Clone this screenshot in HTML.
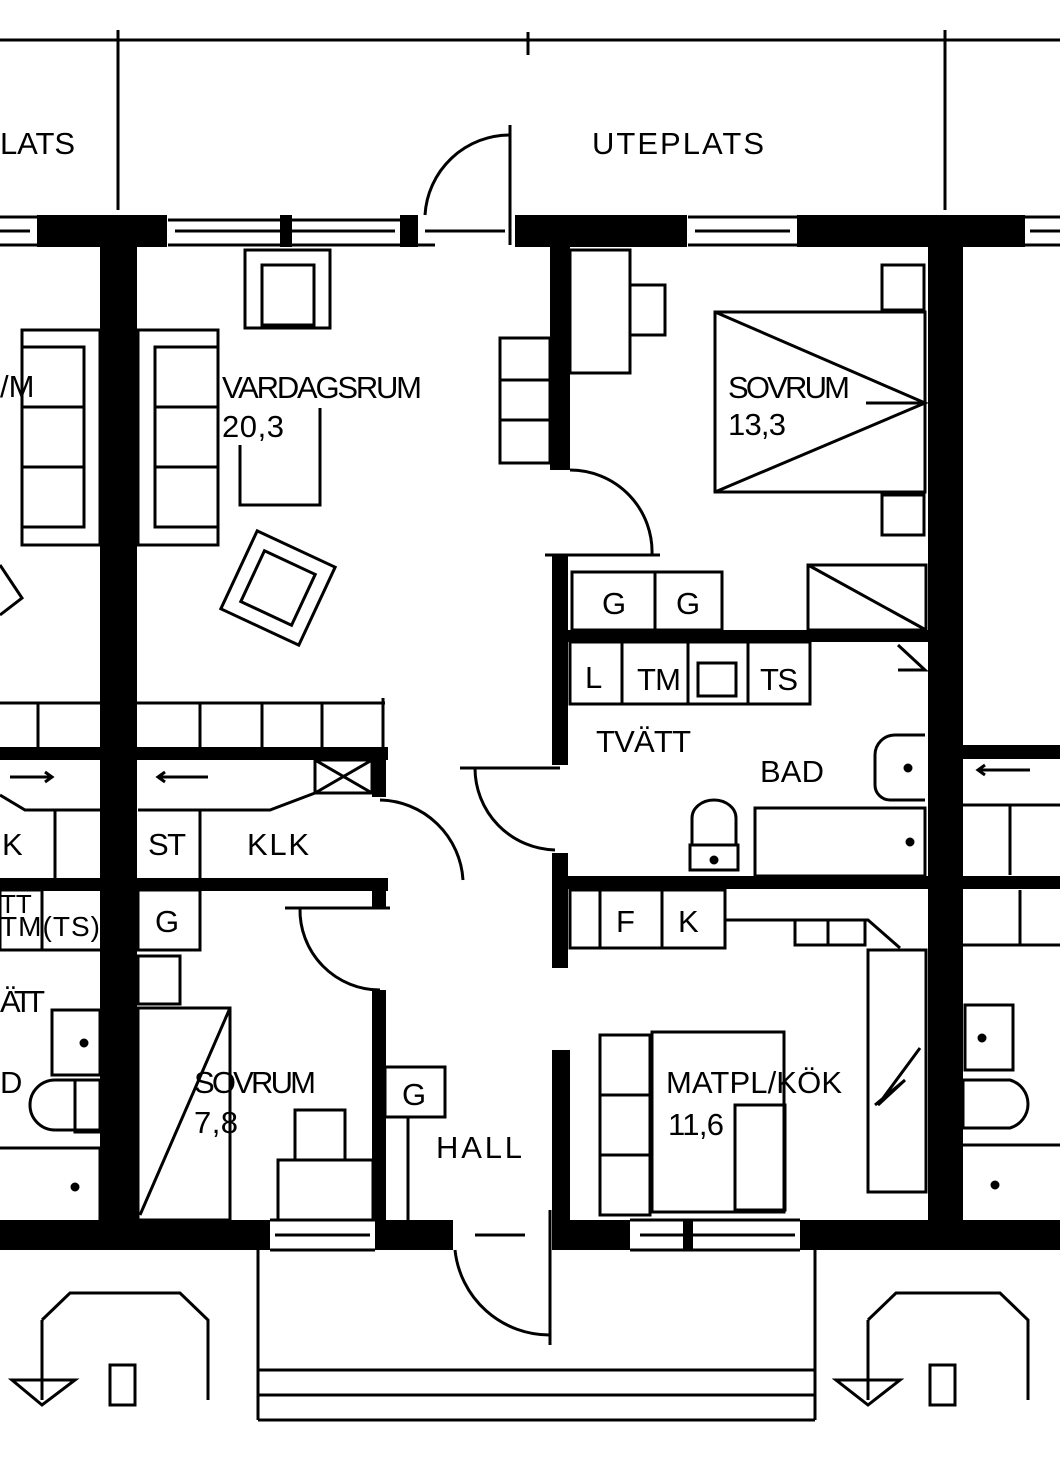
<!DOCTYPE html>
<html><head><meta charset="utf-8"><style>
html,body{margin:0;padding:0;background:#fff}
svg{display:block}
text{font-family:"Liberation Sans","DejaVu Sans",sans-serif;font-size:31px;fill:#000}
</style></head><body>
<svg width="1060" height="1484" viewBox="0 0 1060 1484" xmlns="http://www.w3.org/2000/svg">
<g fill="none" stroke="#000" stroke-width="3">
<line x1="0" y1="40" x2="1060" y2="40"/>
<line x1="118" y1="30" x2="118" y2="210"/>
<line x1="945" y1="30" x2="945" y2="210"/>
<line x1="528" y1="32" x2="528" y2="55"/>
<path d="M425 215 A85 85 0 0 1 510 135"/>
<line x1="510" y1="125" x2="510" y2="245"/>
<line x1="425" y1="231" x2="505" y2="231"/>
<line x1="0" y1="217" x2="37" y2="217"/><line x1="0" y1="245" x2="37" y2="245"/><line x1="0" y1="231" x2="30" y2="231"/>
<line x1="168" y1="220" x2="400" y2="220"/><line x1="168" y1="245" x2="435" y2="245"/><line x1="175" y1="231" x2="395" y2="231"/>
<line x1="688" y1="217" x2="797" y2="217"/><line x1="688" y1="245" x2="797" y2="245"/><line x1="695" y1="231" x2="790" y2="231"/>
<line x1="1025" y1="217" x2="1060" y2="217"/><line x1="1025" y1="245" x2="1060" y2="245"/><line x1="1030" y1="231" x2="1060" y2="231"/>
<line x1="270" y1="1220" x2="375" y2="1220"/><line x1="270" y1="1250" x2="375" y2="1250"/><line x1="275" y1="1235" x2="370" y2="1235"/>
<line x1="630" y1="1220" x2="800" y2="1220"/><line x1="630" y1="1250" x2="800" y2="1250"/><line x1="640" y1="1235" x2="795" y2="1235"/>
<line x1="475" y1="1235" x2="525" y2="1235"/>
<path d="M455 1250 A95 95 0 0 0 550 1335"/>
<line x1="550" y1="1210" x2="550" y2="1345"/>
<line x1="258" y1="1250" x2="258" y2="1420"/><line x1="815" y1="1250" x2="815" y2="1420"/>
<line x1="258" y1="1370" x2="815" y2="1370"/><line x1="258" y1="1395" x2="815" y2="1395"/><line x1="258" y1="1420" x2="815" y2="1420"/>
<path d="M42 1320 L70 1293 L180 1293 L208 1320 L208 1400"/><line x1="42" y1="1320" x2="42" y2="1400"/>
<path d="M12 1380 L75 1380 L42 1405 Z"/><rect x="110" y="1365" width="25" height="40"/>
<path d="M868 1320 L896 1293 L1000 1293 L1028 1320 L1028 1400"/><line x1="868" y1="1320" x2="868" y2="1400"/>
<path d="M836 1380 L900 1380 L868 1405 Z"/><rect x="930" y="1365" width="25" height="40"/>
<rect x="245" y="250" width="85" height="78"/><rect x="262" y="265" width="52" height="60"/>
<rect x="138" y="330" width="80" height="215"/><rect x="155" y="347" width="63" height="180"/>
<line x1="155" y1="407" x2="218" y2="407"/><line x1="155" y1="467" x2="218" y2="467"/>
<rect x="22" y="330" width="78" height="215"/><rect x="22" y="347" width="62" height="180"/>
<line x1="22" y1="407" x2="84" y2="407"/><line x1="22" y1="467" x2="84" y2="467"/>
<polyline points="240,445 240,505 320,505 320,408"/>
<g transform="rotate(25 278 588)"><rect x="235" y="545" width="86" height="86"/><rect x="250" y="560" width="56" height="56"/></g>
<path d="M0 565 L22 598 L0 615"/>
<line x1="0" y1="703" x2="385" y2="703"/>
<line x1="38" y1="703" x2="38" y2="747"/><line x1="200" y1="703" x2="200" y2="747"/><line x1="262" y1="703" x2="262" y2="747"/><line x1="322" y1="703" x2="322" y2="747"/><line x1="383" y1="698" x2="383" y2="747"/>
<rect x="315" y="760" width="57" height="33"/><line x1="315" y1="760" x2="372" y2="793"/><line x1="372" y1="760" x2="315" y2="793"/>
<polyline points="138,810 270,810 315,793"/><polyline points="0,795 25,810 100,810"/>
<line x1="55" y1="810" x2="55" y2="878"/><line x1="200" y1="810" x2="200" y2="878"/>
<line x1="158" y1="777" x2="208" y2="777"/><polyline points="165,772 158,777 165,782"/>
<line x1="10" y1="777" x2="52" y2="777"/><polyline points="45,772 52,777 45,782"/>
<path d="M380 800 A85 85 0 0 1 463 880"/>
<rect x="138" y="890" width="62" height="60"/>
<path d="M300 908 A80 80 0 0 0 380 990"/><line x1="285" y1="908" x2="390" y2="908"/>
<rect x="138" y="956" width="42" height="48"/>
<rect x="138" y="1008" width="92" height="212"/><line x1="230" y1="1008" x2="140" y2="1215"/>
<rect x="295" y="1110" width="50" height="50"/><rect x="278" y="1160" width="95" height="60"/>
<rect x="385" y="1067" width="60" height="50"/><line x1="408" y1="1117" x2="408" y2="1220"/>
<rect x="52" y="1010" width="48" height="65"/><circle cx="84" cy="1043" r="3" fill="#000"/>
<path d="M100 1080 L55 1080 A22 22 0 0 0 55 1130 L100 1130 Z"/><rect x="75" y="1080" width="25" height="52"/>
<polyline points="0,1148 100,1148 100,1220"/>
<rect x="0" y="890" width="42" height="60"/>
<line x1="0" y1="950" x2="100" y2="950"/>
<rect x="570" y="250" width="60" height="123"/>
<rect x="630" y="285" width="35" height="50"/>
<rect x="500" y="338" width="50" height="125"/><line x1="500" y1="380" x2="550" y2="380"/><line x1="500" y1="420" x2="550" y2="420"/>
<path d="M570 470 A82 82 0 0 1 652 555"/><line x1="545" y1="555" x2="660" y2="555"/>
<rect x="882" y="265" width="42" height="45"/><rect x="882" y="495" width="42" height="40"/>
<rect x="715" y="312" width="210" height="180"/><polyline points="715,312 925,403 715,492"/><line x1="866" y1="403" x2="925" y2="403"/>
<rect x="572" y="572" width="150" height="58"/><line x1="655" y1="572" x2="655" y2="630"/>
<rect x="808" y="565" width="118" height="65"/><line x1="808" y1="565" x2="926" y2="630"/>
<rect x="570" y="642" width="240" height="62"/><line x1="622" y1="642" x2="622" y2="704"/><line x1="688" y1="642" x2="688" y2="704"/><line x1="748" y1="642" x2="748" y2="704"/>
<rect x="698" y="663" width="38" height="33"/>
<polyline points="898,645 925,670 898,670"/>
<path d="M925 735 L895 735 A20 20 0 0 0 875 755 L875 785 A15 15 0 0 0 890 800 L925 800"/><circle cx="908" cy="768" r="3" fill="#000"/>
<rect x="755" y="808" width="170" height="68"/><circle cx="910" cy="842" r="3" fill="#000"/>
<path d="M692 845 L692 818 A22 18 0 0 1 736 818 L736 845 Z"/><rect x="690" y="845" width="48" height="25"/><circle cx="714" cy="860" r="3" fill="#000"/>
<path d="M475 768 A82 82 0 0 0 555 850"/><line x1="460" y1="768" x2="560" y2="768"/>
<rect x="570" y="890" width="155" height="58"/><line x1="600" y1="890" x2="600" y2="948"/><line x1="662" y1="890" x2="662" y2="948"/>
<polyline points="725,920 868,920 900,948"/><rect x="795" y="920" width="70" height="25"/><line x1="828" y1="920" x2="828" y2="945"/>
<rect x="868" y="950" width="58" height="242"/>
<polyline points="920,1048 878,1105 905,1080 875,1105"/>
<rect x="600" y="1035" width="50" height="180"/><line x1="600" y1="1095" x2="650" y2="1095"/><line x1="600" y1="1155" x2="650" y2="1155"/>
<rect x="652" y="1032" width="132" height="180"/>
<rect x="735" y="1105" width="50" height="105"/>
<rect x="965" y="1005" width="48" height="65"/><circle cx="982" cy="1038" r="3" fill="#000"/>
<path d="M963 1080 L1010 1080 A25 25 0 0 1 1010 1128 L963 1128 Z"/>
<polyline points="963,1145 1060,1145"/><circle cx="995" cy="1185" r="3" fill="#000"/><circle cx="75" cy="1187" r="3" fill="#000"/>
<polyline points="963,805 1060,805"/><line x1="1010" y1="805" x2="1010" y2="875"/>
<line x1="978" y1="770" x2="1030" y2="770"/><polyline points="985,765 978,770 985,775"/>
<polyline points="963,945 1060,945"/><line x1="1020" y1="890" x2="1020" y2="945"/>
</g>
<g fill="#000">
<rect x="37" y="215" width="130" height="32"/>
<rect x="280" y="215" width="12" height="32"/>
<rect x="400" y="215" width="18" height="32"/>
<rect x="515" y="215" width="172" height="32"/>
<rect x="797" y="215" width="228" height="32"/>
<rect x="100" y="215" width="37" height="1035"/>
<rect x="928" y="215" width="35" height="1035"/>
<rect x="550" y="245" width="20" height="225"/>
<rect x="552" y="555" width="16" height="210"/>
<rect x="552" y="853" width="16" height="115"/>
<rect x="552" y="1050" width="18" height="200"/>
<rect x="568" y="630" width="360" height="12"/>
<rect x="555" y="876" width="505" height="13"/>
<rect x="963" y="745" width="97" height="14"/>
<rect x="0" y="747" width="388" height="13"/>
<rect x="372" y="747" width="14" height="50"/>
<rect x="0" y="878" width="388" height="13"/>
<rect x="372" y="878" width="14" height="30"/>
<rect x="372" y="990" width="14" height="230"/>
<rect x="0" y="1220" width="270" height="30"/>
<rect x="375" y="1220" width="78" height="30"/>
<rect x="555" y="1220" width="75" height="30"/>
<rect x="683" y="1220" width="10" height="30"/>
<rect x="800" y="1220" width="260" height="30"/>
</g>
<text x="0" y="154" textLength="75">LATS</text>
<text x="592" y="154" textLength="172">UTEPLATS</text>
<text x="0" y="397">/M</text>
<text x="222" y="398" textLength="200">VARDAGSRUM</text>
<text x="222" y="437" textLength="62">20,3</text>
<text x="728" y="398" textLength="122">SOVRUM</text>
<text x="728" y="435" textLength="58">13,3</text>
<text x="602" y="614">G</text><text x="676" y="614">G</text>
<text x="585" y="688">L</text><text x="637" y="690" textLength="44">TM</text><text x="760" y="690" textLength="38">TS</text>
<text x="596" y="752" textLength="95">TVÄTT</text>
<text x="760" y="782" textLength="64">BAD</text>
<text x="2" y="855">K</text>
<text x="148" y="855" textLength="38">ST</text>
<text x="247" y="855" textLength="62">KLK</text>
<text x="0" y="913" style="font-size:26px">TT</text>
<text x="0" y="936" style="font-size:28px" textLength="100">TM(TS)</text>
<text x="155" y="932">G</text>
<text x="616" y="932">F</text><text x="678" y="932">K</text>
<text x="0" y="1012" textLength="45">ÄTT</text>
<text x="0" y="1093">D</text>
<text x="194" y="1093" textLength="122">SOVRUM</text>
<text x="194" y="1133" textLength="44">7,8</text>
<text x="402" y="1105">G</text>
<text x="436" y="1158" textLength="86">HALL</text>
<text x="666" y="1093" textLength="176">MATPL/KÖK</text>
<text x="668" y="1135" textLength="56">11,6</text>
</svg>
</body></html>
